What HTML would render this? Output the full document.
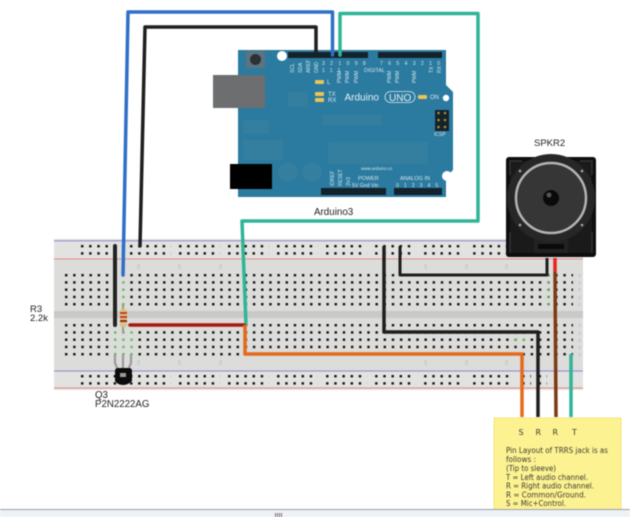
<!DOCTYPE html>
<html>
<head>
<meta charset="utf-8">
<style>
html,body{margin:0;padding:0;background:#fff;width:630px;height:517px;overflow:hidden}
svg{display:block;filter:blur(0.5px)}
text{font-family:"Liberation Sans",sans-serif}
.n text{font-family:"DejaVu Sans",sans-serif}
</style>
</head>
<body>
<svg width="630" height="517" viewBox="0 0 630 517" xmlns="http://www.w3.org/2000/svg">
<defs>
<pattern id="h5" patternUnits="userSpaceOnUse" x="65" y="274" width="8.17" height="7.25"><rect x="0" y="0" width="2.400" height="2.400" fill="#111"/></pattern>
<pattern id="h5b" patternUnits="userSpaceOnUse" x="65" y="324" width="8.17" height="7.25"><rect x="0" y="0" width="2.400" height="2.400" fill="#111"/></pattern>
<pattern id="r1" patternUnits="userSpaceOnUse" x="81" y="245" width="8.17" height="7.2"><rect x="0" y="0" width="2.400" height="2.400" fill="#111"/></pattern>
<pattern id="r2" patternUnits="userSpaceOnUse" x="81" y="375" width="8.17" height="7.2"><rect x="0" y="0" width="2.400" height="2.400" fill="#111"/></pattern>
<pattern id="g1" patternUnits="userSpaceOnUse" x="65" y="274" width="8.17" height="7.25"><rect x="0" y="0" width="2.400" height="2.400" fill="#5fbf5a"/></pattern>
<pattern id="g2" patternUnits="userSpaceOnUse" x="65" y="324" width="8.17" height="7.25"><rect x="0" y="0" width="2.400" height="2.400" fill="#5fbf5a"/></pattern>
</defs>

<!-- breadboard -->
<rect x="54" y="239" width="529" height="151" fill="#dcdcda"/>
<rect x="54" y="239" width="529" height="21" fill="#e2e2e0"/>
<rect x="54" y="371" width="529" height="19" fill="#e2e2e0"/>
<rect x="54" y="311" width="529" height="7" fill="#c9c9c7"/>
<rect x="54" y="240.300" width="529" height="1" fill="#8a8ad0"/>
<rect x="54" y="258.500" width="529" height="1" fill="#e08a8a"/>
<rect x="54" y="370.500" width="529" height="1" fill="#8a8ad0"/>
<rect x="54" y="387.500" width="529" height="1" fill="#e08a8a"/>

<!-- main holes -->
<rect x="65" y="274" width="508" height="32" fill="url(#h5)"/>
<rect x="65" y="324" width="508" height="32" fill="url(#h5b)"/>
<!-- rail holes -->
<g>
<rect x="81" y="245" width="41" height="10" fill="url(#r1)"/>
<rect x="130" y="245" width="41" height="10" fill="url(#r1)"/>
<rect x="179" y="245" width="41" height="10" fill="url(#r1)"/>
<rect x="228" y="245" width="41" height="10" fill="url(#r1)"/>
<rect x="277" y="245" width="41" height="10" fill="url(#r1)"/>
<rect x="326" y="245" width="41" height="10" fill="url(#r1)"/>
<rect x="375" y="245" width="41" height="10" fill="url(#r1)"/>
<rect x="424" y="245" width="41" height="10" fill="url(#r1)"/>
<rect x="473" y="245" width="41" height="10" fill="url(#r1)"/>
<rect x="81" y="375" width="41" height="10" fill="url(#r2)"/>
<rect x="130" y="375" width="41" height="10" fill="url(#r2)"/>
<rect x="179" y="375" width="41" height="10" fill="url(#r2)"/>
<rect x="228" y="375" width="41" height="10" fill="url(#r2)"/>
<rect x="277" y="375" width="41" height="10" fill="url(#r2)"/>
<rect x="326" y="375" width="41" height="10" fill="url(#r2)"/>
<rect x="375" y="375" width="41" height="10" fill="url(#r2)"/>
<rect x="424" y="375" width="41" height="10" fill="url(#r2)"/>
<rect x="473" y="375" width="41" height="10" fill="url(#r2)"/>
<rect x="521" y="375" width="10" height="10" fill="url(#r2)"/>
<rect x="537" y="375" width="10" height="10" fill="url(#r2)"/>
</g>
<!-- faded column marks -->
<g fill="#cfcfcd">
<rect x="578" y="274" width="3" height="3"/><rect x="578" y="281" width="3" height="3"/><rect x="578" y="288" width="3" height="3"/><rect x="578" y="296" width="3" height="3"/><rect x="578" y="303" width="3" height="3"/>
<rect x="578" y="324" width="3" height="3"/><rect x="578" y="332" width="3" height="3"/><rect x="578" y="339" width="3" height="3"/><rect x="578" y="346" width="3" height="3"/><rect x="578" y="353" width="3" height="3"/>
<rect x="137" y="264" width="3" height="5"/><rect x="178" y="264" width="3" height="5"/><rect x="219" y="264" width="3" height="5"/><rect x="424" y="264" width="3" height="5"/><rect x="465" y="264" width="3" height="5"/><rect x="505" y="264" width="3" height="5"/>
<rect x="137" y="360" width="3" height="5"/><rect x="178" y="360" width="3" height="5"/><rect x="219" y="360" width="3" height="5"/><rect x="424" y="360" width="3" height="5"/><rect x="465" y="360" width="3" height="5"/><rect x="505" y="360" width="3" height="5"/>
</g>
<!-- connected (green) holes -->
<rect x="113" y="324" width="20" height="32" fill="#dcdcda"/>
<rect x="113" y="324" width="20" height="32" fill="url(#g2)"/>
<rect x="121" y="274" width="4" height="32" fill="#dcdcda"/>
<rect x="121" y="274" width="4" height="32" fill="url(#g1)"/>
<rect x="545" y="274" width="4" height="32" fill="#dcdcda"/>
<rect x="545" y="274" width="4" height="32" fill="url(#g1)"/>
<rect x="512" y="331" width="14" height="10" fill="url(#g2)"/>

<!-- Arduino -->
<path d="M238 50H446V85L453 92V170L446 177V197H238Z" fill="#2b7a9f"/>
<g fill="#347f9f">
<rect x="288" y="92" width="20" height="15"/>
<rect x="322" y="115" width="60" height="10"/>
<rect x="328" y="142" width="100" height="22"/>
<rect x="243" y="120" width="26" height="14"/>
<rect x="243" y="140" width="40" height="20"/>
<circle cx="288" cy="172" r="10"/><circle cx="312" cy="172" r="10"/>
</g>
<rect x="213" y="75" width="52" height="33" fill="#6d6e70"/>
<rect x="230" y="164" width="42" height="25" fill="#000"/>
<rect x="246" y="51" width="19" height="17" fill="#5d7480"/>
<circle cx="255.500" cy="59.500" r="5.500" fill="#2a3236"/>
<g fill="#14232b">
<rect x="288" y="52" width="80" height="6"/>
<rect x="378" y="52" width="64" height="6"/>
<rect x="321" y="188" width="65" height="7"/>
<rect x="394" y="188" width="48" height="7"/>
<rect x="435" y="110" width="14" height="21"/>
</g>
<g fill="#b08a3a">
<circle cx="438.500" cy="113" r="1.300"/><circle cx="445" cy="113" r="1.300"/><circle cx="438.500" cy="120" r="1.300"/><circle cx="445" cy="120" r="1.300"/><circle cx="438.500" cy="127" r="1.300"/><circle cx="445" cy="127" r="1.300"/>
</g>
<circle cx="282" cy="56" r="5" fill="#fff"/>
<circle cx="446" cy="98" r="3.200" fill="#fff"/>
<circle cx="447" cy="176" r="5" fill="#fff"/>
<g fill="#e8c45a">
<rect x="315" y="80" width="9" height="4" rx="1"/>
<rect x="315" y="92" width="9" height="4" rx="1"/>
<rect x="315" y="98" width="9" height="4" rx="1"/>
<rect x="418" y="95" width="9" height="4" rx="1"/>
</g>
<g fill="#d5e6ee" font-size="6">
<text x="327" y="84">L</text><text x="328" y="96">TX</text><text x="328" y="102">RX</text><text x="430" y="99">ON</text>
<text x="364" y="72" font-size="5.500">DIGITAL</text>
<text x="434" y="136" font-size="5">ICSP</text>
<text x="361" y="170" font-size="4.500">www.arduino.cc</text>
<text x="358" y="180" font-size="5.500">POWER</text>
<text x="400" y="180" font-size="5.500">ANALOG IN</text>
<text x="352" y="187" font-size="5.200">5V Gnd Vin</text>
<text x="396" y="187" font-size="5.200" letter-spacing="5">012345</text>
<text x="322" y="65" font-size="5.200" letter-spacing="5.300">321098</text>
<text x="322" y="72" font-size="5.200" letter-spacing="5.300">111</text>
<text x="380" y="65" font-size="5.200" letter-spacing="5.300">76543210</text>
</g>
<g fill="#d5e6ee" font-size="5">
<text transform="translate(294,73) rotate(-90)">SCL</text>
<text transform="translate(302,73) rotate(-90)">SDA</text>
<text transform="translate(310,73) rotate(-90)">AREF</text>
<text transform="translate(318,73) rotate(-90)">GND</text>
<text transform="translate(341,83) rotate(-90)">PWM</text>
<text transform="translate(349,83) rotate(-90)">PWM</text>
<text transform="translate(358,83) rotate(-90)">PWM</text>
<text transform="translate(391,83) rotate(-90)">PWM</text>
<text transform="translate(399,83) rotate(-90)">PWM</text>
<text transform="translate(416,83) rotate(-90)">PWM</text>
<text transform="translate(433,73) rotate(-90)">TX</text>
<text transform="translate(441,73) rotate(-90)">RX</text>
<text transform="translate(334,186) rotate(-90)">IOREF</text>
<text transform="translate(342,186) rotate(-90)">RESET</text>
<text transform="translate(350,186) rotate(-90)">3V3</text>
</g>
<text x="344.500" y="100.500" font-size="10" fill="#e6f0f5">Arduino</text>
<rect x="385" y="91.500" width="30" height="11" rx="5.500" fill="none" stroke="#dce9ef" stroke-width=".8"/>
<text x="389" y="101" font-size="10" fill="#e6f0f5">UNO</text>
<text x="314" y="215" font-size="9.800" fill="#222">Arduino3</text>

<!-- Speaker -->
<rect x="506" y="157" width="90" height="100" rx="3" fill="#0e0e0e"/>
<rect x="510" y="161" width="82" height="92" fill="#1a1a1a"/>
<path d="M534 253V225H568V253" fill="#222"/>
<circle cx="551" cy="198" r="44" fill="#272727"/>
<rect x="538" y="244" width="26" height="5" fill="#0a0a0a"/>
<path d="M510 175V161H522M592 175V161H580M510 232V253M592 232V253" stroke="#3a3a3a" fill="none" stroke-width="1.200"/>
<circle cx="551" cy="198" r="35" fill="#363636" stroke="#b4b4b4" stroke-width="2.500"/>
<circle cx="551" cy="198" r="8" fill="#0a0a0a"/>
<circle cx="549" cy="195" r="2.500" fill="#555"/>
<g fill="#aaa"><circle cx="520" cy="171" r="1.300"/><circle cx="582" cy="171" r="1.300"/><circle cx="520" cy="225" r="1.300"/><circle cx="582" cy="225" r="1.300"/></g>
<text x="534" y="146" font-size="9.500" fill="#222">SPKR2</text>

<!-- Wires -->
<g fill="none" stroke-linejoin="round" stroke-linecap="round">
<polyline points="140,246 145,27 316,27 316,55" stroke="#1f1f1f" stroke-width="3.500"/>
<polyline points="123,275 128,12 332.500,12 332.500,55" stroke="#2f6fc8" stroke-width="3.500"/>
<polyline points="340,55 340,13.500 478,13.500 478,221 242,221 246,325" stroke="#2fb596" stroke-width="3.500"/>
<polyline points="130,325 244,325" stroke="#a81a10" stroke-width="3.500"/>
<polyline points="115,246 115,325" stroke="#222" stroke-width="4"/>
<polyline points="245,325 245,354 522,354 522,417" stroke="#e56a1b" stroke-width="3.500" stroke-linecap="butt"/>
<polyline points="384,246 384,332 538,332 538,417" stroke="#1e1e1e" stroke-width="3.500" stroke-linecap="butt"/>
<polyline points="400,246 400,275 547,275 547,258" stroke="#1e1e1e" stroke-width="3" stroke-linecap="butt"/>
<polyline points="555,258 555,272" stroke="#e8231a" stroke-width="3.500" stroke-linecap="butt"/>
<polyline points="555,272 556,417" stroke="#7d3a12" stroke-width="3.500" stroke-linecap="butt"/>
<polyline points="571,354 571,417" stroke="#2fb596" stroke-width="3.500" stroke-linecap="butt"/>
</g>

<!-- Resistor -->
<rect x="122" y="303" width="2" height="30" fill="#8fa27a"/>
<rect x="120" y="309" width="7" height="18" rx="2" fill="#dcc08a"/>
<rect x="120" y="312" width="7" height="2" fill="#c2401a"/>
<rect x="120" y="316" width="7" height="2" fill="#c2401a"/>
<rect x="120" y="320" width="7" height="2" fill="#8a3010"/>

<!-- Transistor -->
<g fill="none" stroke="#9a9a9a" stroke-width="2.200">
<path d="M115 354V363L118 370"/>
<path d="M123 354V370"/>
<path d="M131 354V363L128 370"/>
</g>
<path d="M118 368H129Q132 368 132 371V381Q128 385 123 385Q118 385 115 381V371Q115 368 118 368Z" fill="#0c0c0c"/>
<rect x="120" y="373" width="6" height="4" fill="#9a9a9a"/>

<!-- Labels -->
<text x="30" y="312" font-size="9.500" fill="#222">R3</text>
<text x="30" y="321" font-size="9.500" fill="#222">2.2k</text>
<text x="95" y="398" font-size="9.700" fill="#222">Q3</text>
<text x="95" y="407" font-size="9.700" fill="#222">P2N2222AG</text>

<!-- Note -->
<rect x="494" y="418" width="127" height="92" fill="#fdf291" stroke="#f2df66" stroke-width=".8"/>
<g class="n" font-size="8" fill="#3a3a32">
<text x="518.500" y="435">S</text>
<text x="535.500" y="435">R</text>
<text x="552.500" y="435">R</text>
<text x="572" y="435">T</text>
<text x="506" y="453" textLength="102" lengthAdjust="spacingAndGlyphs">Pin Layout of TRRS jack is as</text>
<text x="506" y="462" textLength="30" lengthAdjust="spacingAndGlyphs">follows :</text>
<text x="506" y="471" textLength="50" lengthAdjust="spacingAndGlyphs">(Tip to sleeve)</text>
<text x="506" y="480" textLength="82" lengthAdjust="spacingAndGlyphs">T = Left audio channel.</text>
<text x="506" y="488.500" textLength="88" lengthAdjust="spacingAndGlyphs">R = Right audio channel.</text>
<text x="506" y="497.500" textLength="80" lengthAdjust="spacingAndGlyphs">R = Common/Ground.</text>
<text x="506" y="506" textLength="60" lengthAdjust="spacingAndGlyphs">S = Mic+Control.</text>
</g>

<!-- Bottom bar -->
<rect x="0" y="510" width="630" height="7" fill="#eef1f5"/>
<rect x="0" y="509" width="630" height="1" fill="#9aa0a6"/>
<g fill="#777"><rect x="275" y="513" width="1" height="4"/><rect x="277" y="513" width="1" height="4"/><rect x="279" y="513" width="1" height="4"/><rect x="281" y="513" width="1" height="4"/></g>
</svg>
</body>
</html>
